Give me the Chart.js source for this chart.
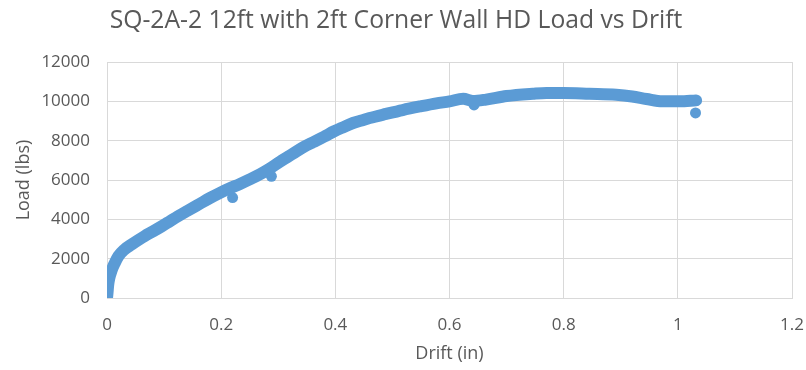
<!DOCTYPE html>
<html>
<head>
<meta charset="utf-8">
<script src="https://cdn.jsdelivr.net/npm/chart.js@4/dist/chart.umd.min.js"></script>
<style>
  body { margin: 0; background: #fff; }
</style>
</head>
<body>
<canvas id="chart" width="806" height="370"></canvas>
<script>
// drift (in) / load (lbs)
var drift = [0, 0.001, 0.002, 0.004, 0.008, 0.014, 0.02, 0.03, 0.043, 0.055, 0.066, 0.08, 0.096, 0.11, 0.124,
  0.14, 0.163, 0.18, 0.198, 0.215, 0.233, 0.25, 0.268, 0.285, 0.303, 0.318, 0.332, 0.346, 0.361, 0.38,
  0.398, 0.415, 0.431, 0.446, 0.46, 0.489, 0.518, 0.548, 0.577, 0.6, 0.624, 0.641, 0.664, 0.7, 0.746,
  0.77, 0.8, 0.845, 0.892, 0.92, 0.945, 0.973, 1.003, 1.032];
var load = [0, 300, 650, 1000, 1400, 1800, 2130, 2450, 2720, 2950, 3150, 3380, 3650, 3900, 4150,
  4420, 4800, 5080, 5350, 5580, 5800, 6030, 6290, 6580, 6930, 7200, 7460, 7700, 7920, 8200,
  8480, 8700, 8900, 9030, 9150, 9360, 9560, 9740, 9900, 10000, 10130, 10020, 10090, 10270, 10390,
  10430, 10430, 10390, 10340, 10250, 10120, 10000, 10000, 10050];

// stray points off the main band
var strayDrift = [0.22, 0.288, 0.643, 1.031];
var strayLoad = [5110, 6190, 9820, 9410];

var xTickLabels = ["0", "0.2", "0.4", "0.6", "0.8", "1", "1.2"];
var yTickLabels = ["0", "2000", "4000", "6000", "8000", "10000", "12000"];

function toPoints(xs, ys) {
  var pts = [];
  for (var i = 0; i < xs.length; i++) pts.push({x: xs[i], y: ys[i]});
  return pts;
}

var blue = "#5B9BD5";
var grey = "#595959";
var gridColor = "#d9d9d9";
var fontFamily = "'Open Sans', 'Liberation Sans', sans-serif";

var ctx = document.getElementById("chart").getContext("2d");
new Chart(ctx, {
  type: "scatter",
  data: {
    datasets: [
      {
        data: toPoints(drift, load),
        showLine: true,
        borderColor: blue,
        backgroundColor: blue,
        borderWidth: 12,
        borderCapStyle: "round",
        borderJoinStyle: "round",
        pointRadius: 0,
        cubicInterpolationMode: "monotone"
      },
      {
        data: toPoints(strayDrift, strayLoad),
        borderColor: blue,
        backgroundColor: blue,
        pointRadius: 5.5,
        borderWidth: 0
      }
    ]
  },
  options: {
    responsive: false,
    animation: false,
    layout: { padding: { left: 0, right: 14, top: 0, bottom: 0 } },
    plugins: {
      legend: { display: false },
      tooltip: { enabled: false },
      title: {
        display: true,
        text: "SQ-2A-2 12ft with 2ft Corner Wall HD Load vs Drift",
        color: grey,
        font: { family: fontFamily, size: 24.7, weight: "normal" },
        padding: { top: 6, bottom: 26.4 }
      }
    },
    scales: {
      x: {
        type: "linear",
        min: 0,
        max: 1.2,
        afterFit: function(scale) { scale.height = 72; },
        ticks: {
          stepSize: 0.2,
          color: grey,
          padding: 0,
          font: { family: fontFamily, size: 17 },
          callback: function(v, i) { return xTickLabels[i]; }
        },
        // transparent tick marks stand in for the label gap
        grid: { color: gridColor, drawTicks: true, tickLength: 17, tickColor: "rgba(0,0,0,0)" },
        border: { color: gridColor },
        title: {
          display: true,
          text: "Drift (in)",
          color: grey,
          font: { family: fontFamily, size: 18 },
          padding: { top: 0, bottom: 5 }
        }
      },
      y: {
        min: 0,
        max: 12000,
        afterFit: function(scale) { scale.width = 107; },
        ticks: {
          stepSize: 2000,
          color: grey,
          padding: 0,
          font: { family: fontFamily, size: 17 },
          callback: function(v, i) { return yTickLabels[i]; }
        },
        grid: { color: gridColor, drawTicks: true, tickLength: 17, tickColor: "rgba(0,0,0,0)" },
        border: { color: gridColor },
        title: {
          display: true,
          text: "Load (lbs)",
          color: grey,
          font: { family: fontFamily, size: 18 },
          padding: { top: 13, bottom: 0 }
        }
      }
    }
  }
});
</script>
</body>
</html>
